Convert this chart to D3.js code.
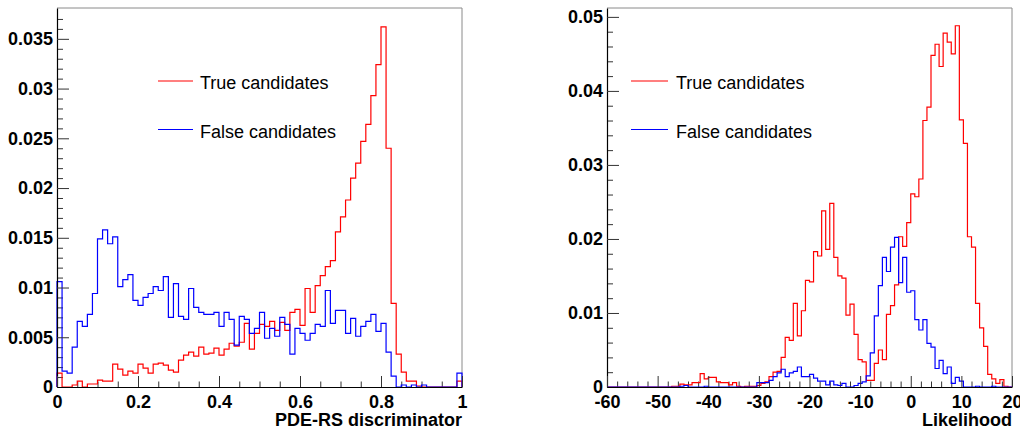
<!DOCTYPE html>
<html>
<head>
<meta charset="utf-8">
<script src="https://cdn.jsdelivr.net/npm/d3@7"></script>
<style>
  html, body { margin: 0; padding: 0; background: #fff; }
  svg { display: block; }
  text { font-family: "Liberation Sans", Arial, Helvetica, sans-serif; }
</style>
</head>
<body>
<svg id="chart" width="1020" height="428"></svg>
<script>
// ---------------- DATA ----------------
// Left panel: PDE-RS discriminator, 80 bins in [0, 1]
const pdeRange = [0, 1];
const pdeTrue = [
  0.0014, 0, 0, 0.0002, 0.0006, 0, 0.0003, 0.0003, 0.0007, 0.0006,
  0.0006, 0.0023, 0.0018, 0.0012, 0.0016, 0.0014, 0.0023, 0.0019, 0.0014, 0.0023,
  0.0024, 0.0022, 0.0017, 0.0015, 0.0027, 0.0032, 0.0035, 0.0031, 0.0040, 0.0033,
  0.0034, 0.0039, 0.0032, 0.0038, 0.0044, 0.0041, 0.0045, 0.0064, 0.0038, 0.0054,
  0.0063, 0.0061, 0.0066, 0.0057, 0.0065, 0.0057, 0.0075, 0.0078, 0.0062, 0.0099,
  0.0075, 0.0102, 0.0112, 0.0121, 0.0127, 0.0156, 0.0171, 0.0188, 0.0210, 0.0225,
  0.0247, 0.0264, 0.0293, 0.0324, 0.0362, 0.0240, 0.0084, 0.0033, 0.0015, 0.0006,
  0.0006, 0.0001, 0, 0, 0, 0, 0, 0, 0, 0.0006
];
const pdeFalse = [
  0.0106, 0.0016, 0.0014, 0.0040, 0.0066, 0.0061, 0.0073, 0.0094, 0.0149, 0.0158,
  0.0144, 0.0151, 0.0101, 0.0108, 0.0113, 0.0087, 0.0082, 0.0090, 0.0094, 0.0101,
  0.0097, 0.0111, 0.0070, 0.0104, 0.0071, 0.0068, 0.0099, 0.0080, 0.0075, 0.0073,
  0.0073, 0.0075, 0.0061, 0.0075, 0.0068, 0.0042, 0.0071, 0.0068, 0.0054, 0.0059,
  0.0075, 0.0049, 0.0059, 0.0051, 0.0070, 0.0063, 0.0033, 0.0059, 0.0054, 0.0047,
  0.0054, 0.0063, 0.0061, 0.0097, 0.0064, 0.0077, 0.0077, 0.0054, 0.0069, 0.0051,
  0.0061, 0.0066, 0.0073, 0.0056, 0.0064, 0.0035, 0.0011, 0, 0.0002, 0,
  0.0002, 0, 0.0002, 0, 0, 0, 0, 0, 0, 0.0014
];

// Right panel: Likelihood, 100 bins in [-60, 20]
const likeRange = [-60, 20];
const likeTrue = [
  0, 0, 0, 0, 0, 0, 0, 0, 0, 0,
  0, 0, 0, 0, 0, 0, 0.0001, 0.0001, 0.0004, 0.0003,
  0.0003, 0.0006, 0.0006, 0.0018, 0.0011, 0.0013, 0.0013, 0.0007, 0.0006, 0.0006,
  0.0003, 0.0006, 0.0001, 0, 0.0001, 0.0001, 0.0001, 0.0002, 0.0005, 0.0007,
  0.0014, 0.0020, 0.0021, 0.0040, 0.0067, 0.0063, 0.0113, 0.0069, 0.0103, 0.0144,
  0.0142, 0.0183, 0.0177, 0.0238, 0.0186, 0.0248, 0.0175, 0.0150, 0.0147, 0.0097,
  0.0112, 0.0071, 0.0037, 0.0034, 0.0009, 0.0009, 0.0032, 0.0050, 0.0037, 0.0098,
  0.0110, 0.0138, 0.0203, 0.0190, 0.0222, 0.0261, 0.0257, 0.0281, 0.0360, 0.0378,
  0.0448, 0.0463, 0.0433, 0.0478, 0.0466, 0.0450, 0.0488, 0.0361, 0.0329, 0.0203,
  0.0189, 0.0113, 0.0080, 0.0055, 0.0017, 0.0011, 0.0005, 0.0010, 0.0001, 0
];
const likeFalse = [
  0, 0, 0, 0, 0, 0, 0, 0, 0, 0,
  0, 0, 0, 0, 0, 0, 0, 0, 0.0001, 0.0002,
  0, 0, 0, 0, 0.0001, 0, 0, 0, 0, 0,
  0, 0, 0, 0, 0, 0, 0, 0.0006, 0.0006, 0.0006,
  0.0009, 0.0014, 0.0019, 0.0024, 0.0014, 0.0019, 0.0021, 0.0027, 0.0014, 0.0014,
  0.0017, 0.0012, 0.0008, 0.0008, 0.0003, 0.0008, 0.0003, 0.0002, 0.0005, 0,
  0, 0.0002, 0.0005, 0.0007, 0.0015, 0.0046, 0.0096, 0.0137, 0.0175, 0.0156,
  0.0189, 0.0202, 0.0141, 0.0175, 0.0128, 0.0130, 0.0091, 0.0077, 0.0091, 0.0059,
  0.0054, 0.0025, 0.0036, 0.0018, 0.0027, 0.0005, 0.0013, 0.0008, 0, 0,
  0, 0.0001, 0, 0, 0, 0.0001, 0, 0, 0, 0
];

// Tick labels
const pdeXTicks = [0, 0.2, 0.4, 0.6, 0.8, 1];
const pdeXLabels = ["0", "0.2", "0.4", "0.6", "0.8", "1"];
const pdeYTicks = [0, 0.005, 0.01, 0.015, 0.02, 0.025, 0.03, 0.035];
const pdeYLabels = ["0", "0.005", "0.01", "0.015", "0.02", "0.025", "0.03", "0.035"];
const likeXTicks = [-60, -50, -40, -30, -20, -10, 0, 10, 20];
const likeXLabels = ["-60", "-50", "-40", "-30", "-20", "-10", "0", "10", "20"];
const likeYTicks = [0, 0.01, 0.02, 0.03, 0.04, 0.05];
const likeYLabels = ["0", "0.01", "0.02", "0.03", "0.04", "0.05"];

const seriesNames = ["True candidates", "False candidates"];
const seriesColors = ["#ff0000", "#0000ff"];

// ---------------- DRAWING ----------------
const svg = d3.select("#chart");

function panel(opt) {
  const x = d3.scaleLinear().domain(opt.xDomain).range([opt.left, opt.right]);
  const y = d3.scaleLinear().domain([0, opt.yMax]).range([opt.bottom, opt.top]);
  const g = svg.append("g");

  // frame (top & right)
  g.append("path")
    .attr("d", `M${opt.left},${opt.top}H${opt.right}V${opt.bottom}`)
    .attr("fill", "none").attr("stroke", "#8a8a8a").attr("stroke-width", 1);

  // minor ticks
  const gyMinor = g.append("g").attr("transform", `translate(${opt.left},0)`)
    .call(d3.axisLeft(y).tickValues(opt.yMinor).tickSize(-6).tickSizeOuter(0).tickFormat(""));
  const gxMinor = g.append("g").attr("transform", `translate(0,${opt.bottom})`)
    .call(d3.axisBottom(x).tickValues(opt.xMinor).tickSize(-5.5).tickSizeOuter(0).tickFormat(""));
  [gyMinor, gxMinor].forEach(a => { a.select(".domain").remove(); a.selectAll("line").attr("stroke", "#333"); });

  // histograms
  const line = d3.line().x(d => x(d[0])).y(d => y(d[1]));
  opt.series.forEach((vals, si) => {
    const n = vals.length;
    const w = (opt.xDomain[1] - opt.xDomain[0]) / n;
    const pts = [[opt.xDomain[0], 0]];
    vals.forEach((v, i) => {
      const e0 = opt.xDomain[0] + i * w;
      pts.push([e0, v], [e0 + w, v]);
    });
    pts.push([opt.xDomain[1], 0]);
    g.append("path").datum(pts).attr("d", line)
      .attr("fill", "none").attr("stroke", seriesColors[si])
      .attr("stroke-width", 1.2).attr("stroke-linejoin", "miter");
  });

  // major axes
  const gy = g.append("g").attr("transform", `translate(${opt.left},0)`)
    .call(d3.axisLeft(y).tickValues(opt.yTicks).tickSize(-12).tickSizeOuter(0).tickPadding(4)
      .tickFormat((d, i) => opt.yLabels[i]));
  const gx = g.append("g").attr("transform", `translate(0,${opt.bottom})`)
    .call(d3.axisBottom(x).tickValues(opt.xTicks).tickSize(-11).tickSizeOuter(0).tickPadding(8)
      .tickFormat((d, i) => opt.xLabels[i]));
  [gy, gx].forEach(a => {
    a.select(".domain").attr("stroke", "#000").attr("stroke-width", 1.2);
    a.selectAll("line").attr("stroke", "#333");
    a.selectAll("text").attr("font-size", 18).attr("font-weight", "bold").attr("fill", "#000")
      .style("font-family", '"Liberation Sans", Arial, sans-serif');
  });

  // axis title
  g.append("text").attr("x", opt.right).attr("y", 426).attr("text-anchor", "end")
    .attr("font-size", 18).attr("font-weight", "bold").text(opt.title);

  // legend
  seriesNames.forEach((name, i) => {
    const ly = [81, 129.5][i];
    g.append("line").attr("x1", opt.legX1).attr("x2", opt.legX2).attr("y1", ly).attr("y2", ly)
      .attr("stroke", seriesColors[i]).attr("stroke-width", 1.2);
    g.append("text").attr("x", opt.legText).attr("y", [89, 137.5][i])
      .attr("font-size", 18).attr("fill", "#000").text(name);
  });
}

const pdeYMinor = d3.range(0, 38).map(k => k * 0.001).filter(v => Math.round(v * 1000) % 5 !== 0);
const pdeXMinor = d3.range(0, 21).map(k => k * 0.05).filter(v => Math.round(v * 100) % 20 !== 0);
const likeYMinor = d3.range(0, 26).map(k => k * 0.002).filter(v => Math.round(v * 1000) % 10 !== 0);
const likeXMinor = d3.range(-60, 21, 2).filter(v => v % 10 !== 0);

panel({
  left: 57, right: 462, top: 8, bottom: 387,
  xDomain: pdeRange, yMax: 0.0381,
  series: [pdeTrue, pdeFalse],
  xTicks: pdeXTicks, xLabels: pdeXLabels, yTicks: pdeYTicks, yLabels: pdeYLabels,
  xMinor: pdeXMinor, yMinor: pdeYMinor,
  title: "PDE-RS discriminator",
  legX1: 158, legX2: 193, legText: 200
});

panel({
  left: 607, right: 1012, top: 8, bottom: 387,
  xDomain: likeRange, yMax: 0.0512,
  series: [likeTrue, likeFalse],
  xTicks: likeXTicks, xLabels: likeXLabels, yTicks: likeYTicks, yLabels: likeYLabels,
  xMinor: likeXMinor, yMinor: likeYMinor,
  title: "Likelihood",
  legX1: 631, legX2: 668, legText: 676
});
</script>
</body>
</html>
